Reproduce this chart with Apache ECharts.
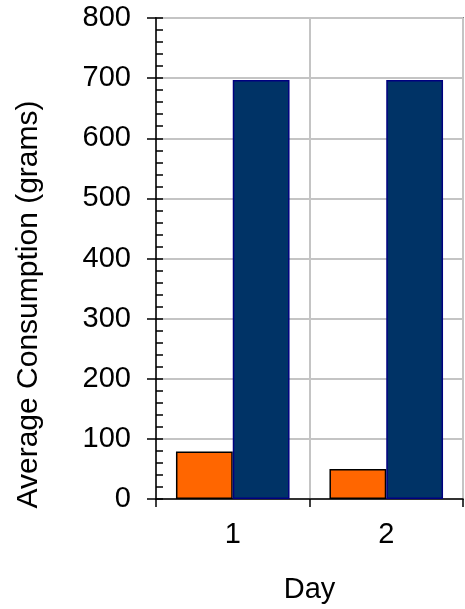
<!DOCTYPE html>
<html>
<head>
<meta charset="utf-8">
<script src="https://cdn.jsdelivr.net/npm/echarts@6/dist/echarts.min.js"></script>
<style>html,body{margin:0;padding:0;background:#fff}#c{width:465px;height:609px}</style>
</head>
<body>
<div id="c"></div>
<script>
const categories = ['1', '2'];
const seriesOrange = [79, 50];
const seriesNavy = [697, 697];
const yTicks = [0, 100, 200, 300, 400, 500, 600, 700, 800];

const FONT = "'Liberation Sans', Arial, sans-serif";
const chart = echarts.init(document.getElementById('c'), null, {renderer: 'canvas'});
chart.setOption({
  animation: false,
  backgroundColor: '#fff',
  grid: {left: 156, right: 2, top: 18, bottom: 109, show: true, borderColor: '#222', borderWidth: 1.5, backgroundColor: 'transparent'},
  xAxis: {
    type: 'category',
    data: categories,
    name: 'Day',
    nameLocation: 'middle',
    nameGap: 76,
    nameTextStyle: {fontFamily: FONT, fontSize: 29, color: '#000'},
    axisLine: {lineStyle: {color: '#000', width: 1.5}},
    axisTick: {show: true, length: 8, lineStyle: {color: '#000', width: 1.5}},
    axisLabel: {fontFamily: FONT, fontSize: 29, color: '#000', margin: 21},
    splitLine: {show: true, lineStyle: {color: '#c4c4c4', width: 2}}
  },
  yAxis: [{
    type: 'value',
    min: 0, max: 800, interval: 100,
    name: 'Average Consumption (grams)',
    nameLocation: 'middle',
    nameGap: 112,
    nameTextStyle: {fontFamily: FONT, fontSize: 30, color: '#000', padding: [0, 92, 0, 0]},
    axisLine: {show: true, lineStyle: {color: '#000', width: 1.5}},
    axisTick: {show: true, length: 9, lineStyle: {color: '#000', width: 1.5}},
    axisLabel: {fontFamily: FONT, fontSize: 29, color: '#000', margin: 25,
      formatter: v => yTicks.includes(v) ? String(v) : ''},
    splitLine: {show: true, lineStyle: {color: '#c4c4c4', width: 2}}
  }, {
    type: 'value',
    position: 'left',
    min: 0, max: 800, interval: 100,
    axisLine: {show: false},
    axisTick: {show: true, inside: true, length: 7, lineStyle: {color: '#000', width: 1.5}},
    minorTick: {show: true, splitNumber: 5, length: 7, lineStyle: {color: '#000', width: 1.5}},
    axisLabel: {show: false},
    splitLine: {show: false}
  }],
  series: [{
    name: 'Series 1',
    type: 'bar',
    data: seriesOrange,
    barGap: '0%',
    barCategoryGap: '26%',
    itemStyle: {color: '#FF6600', borderColor: '#000', borderWidth: 1.5}
  }, {
    name: 'Series 2',
    type: 'bar',
    data: seriesNavy,
    itemStyle: {color: '#003366', borderColor: '#000080', borderWidth: 1.5}
  }]
});
</script>
</body>
</html>
